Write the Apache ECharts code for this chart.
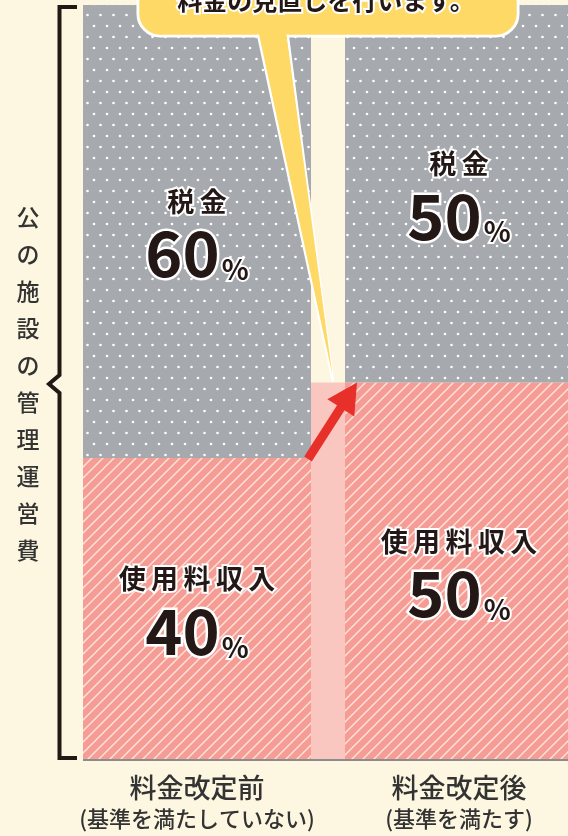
<!DOCTYPE html>
<html>
<head>
<meta charset="utf-8">
<script src="https://cdn.jsdelivr.net/npm/echarts@6/dist/echarts.min.js"></script>
<style>
  html, body { margin: 0; padding: 0; background: #fdf7e1; overflow: hidden; }
  /* 右の棒は画面の端で切れているので、図は少し広く描く */
  #main { width: 590px; height: 836px; }
</style>
</head>
<body>
<div id="main"></div>
<script>
// データ
var categories = ['料金改定前', '料金改定後'];
var notes = ['(基準を満たしていない)', '(基準を満たす)'];
var taxShare = [60, 50];     // 税金
var usageShare = [40, 50];   // 使用料収入
var taxName = '税金';
var usageName = '使用料収入';
var sideTitle = '公の施設の管理運営費';
var bubbleText = '料金の見直しを行います。';

var BAR_W = 228;
var INK = '#231815';
var FONT = '"Noto Sans CJK JP", "Noto Sans CJK SC", sans-serif';

// 模様（ドット・斜線）
function dotPattern() {
  var c = document.createElement('canvas');
  c.width = 13; c.height = 22;
  var g = c.getContext('2d');
  g.fillStyle = '#a6aaae';
  g.fillRect(0, 0, 13, 22);
  g.fillStyle = '#ffffff';
  [[3, 4], [9.5, 15]].forEach(function (p) {
    g.beginPath();
    g.arc(p[0], p[1], 1.3, 0, Math.PI * 2);
    g.fill();
  });
  return c;
}
function stripePattern() {
  var s = 11;
  var c = document.createElement('canvas');
  c.width = s; c.height = s;
  var g = c.getContext('2d');
  g.fillStyle = '#f59d95';
  g.fillRect(0, 0, s, s);
  g.strokeStyle = '#fde3de';
  g.lineWidth = 1.4;
  [[-s / 2, s / 2, s / 2, -s / 2], [0, s, s, 0], [s / 2, s * 1.5, s * 1.5, s / 2]].forEach(function (l) {
    g.beginPath();
    g.moveTo(l[0], l[1]);
    g.lineTo(l[2], l[3]);
    g.stroke();
  });
  return c;
}

function spaced(s) {
  return s.split('').join('\u2009');
}

var labelRich = {
  n: { fontFamily: FONT, fontSize: 27, fontWeight: 'bold', color: INK,
       textBorderColor: '#fff', textBorderWidth: 4, lineHeight: 44 },
  v: { fontFamily: FONT, fontSize: 63, fontWeight: 'bold', color: INK,
       textBorderColor: '#fff', textBorderWidth: 5, lineHeight: 60 },
  p: { fontFamily: FONT, fontSize: 28, fontWeight: 'bold', color: INK,
       textBorderColor: '#fff', textBorderWidth: 4, verticalAlign: 'bottom', lineHeight: 60, padding: [0, 0, 0, 2] }
};

function barLabel(name) {
  return {
    show: true,
    position: 'inside',
    formatter: function (p) {
      return '{n|' + spaced(name) + '}\n{v|' + p.value + '}{p|%}';
    },
    rich: labelRich
  };
}

var chart = echarts.init(document.getElementById('main'));

var option = {
  backgroundColor: '#fdf7e1',
  animation: false,
  grid: { left: 66, right: 0, top: 5, bottom: 76 },
  xAxis: {
    type: 'category',
    data: categories,
    axisLine: { show: false },
    axisTick: { show: false },
    axisLabel: {
      margin: 13,
      formatter: function (v, i) {
        return '{a|' + v + '}\n{b|' + notes[i] + '}';
      },
      rich: {
        a: { fontFamily: FONT, fontSize: 27, fontWeight: 500, color: '#333', lineHeight: 30 },
        b: { fontFamily: FONT, fontSize: 22, fontWeight: 500, color: '#333', lineHeight: 32 }
      }
    }
  },
  yAxis: { type: 'value', min: 0, max: 100, show: false },
  series: [
    {
      name: usageName,
      type: 'bar',
      stack: 'total',
      barWidth: BAR_W,
      data: usageShare,
      itemStyle: { color: { image: stripePattern(), repeat: 'repeat' } },
      label: barLabel(usageName)
    },
    {
      name: taxName,
      type: 'bar',
      stack: 'total',
      barWidth: BAR_W,
      data: taxShare,
      itemStyle: { color: { image: dotPattern(), repeat: 'repeat' } },
      label: barLabel(taxName)
    },
    {
      // 間の帯・基線・矢印
      type: 'custom',
      z: 20,
      data: [0],
      renderItem: function (params, api) {
        var half = BAR_W / 2;
        var p0 = api.coord([0, usageShare[0]]);
        var p1 = api.coord([1, usageShare[1]]);
        var b0 = api.coord([0, 0]);
        var b1 = api.coord([1, 0]);
        var gapL = p0[0] + half, gapR = p1[0] - half;

        var sx = gapL - 3, sy = p0[1] + 1;
        var tx = gapR + 12, ty = p1[1];
        var dx = tx - sx, dy = ty - sy;
        var len = Math.sqrt(dx * dx + dy * dy);
        var ux = dx / len, uy = dy / len, nx = -uy, ny = ux;
        var headL = 30, headW = 16, shaftW = 4.5;
        var hx = tx - ux * headL, hy = ty - uy * headL;

        return {
          type: 'group',
          children: [
            {
              type: 'rect',
              shape: { x: gapL, y: p1[1], width: gapR - gapL, height: b1[1] - p1[1] },
              style: { fill: '#f9c7c0' }
            },
            {
              type: 'line',
              shape: { x1: b0[0] - half, y1: b0[1], x2: b1[0] + half + 20, y2: b1[1] },
              style: { stroke: '#8c8c8c', lineWidth: 2 }
            },
            {
              type: 'polygon',
              shape: {
                points: [
                  [sx + nx * shaftW, sy + ny * shaftW],
                  [hx + nx * shaftW, hy + ny * shaftW],
                  [hx + nx * headW, hy + ny * headW],
                  [tx, ty],
                  [hx - nx * headW, hy - ny * headW],
                  [hx - nx * shaftW, hy - ny * shaftW],
                  [sx - nx * shaftW, sy - ny * shaftW]
                ]
              },
              style: { fill: '#e8302a' }
            }
          ]
        };
      }
    }
  ],
  graphic: [
    // 左の括弧
    {
      type: 'polyline',
      z: 10,
      shape: { points: [[77, 7], [59.5, 7], [59.5, 375], [49, 384], [59.5, 393], [59.5, 758], [77, 758]] },
      style: { stroke: INK, lineWidth: 4, fill: null, lineJoin: 'miter' }
    },
    {
      type: 'text',
      z: 10,
      style: {
        x: 28, y: 199,
        text: sideTitle.split('').join('\n'),
        font: '500 23px ' + FONT,
        lineHeight: 37,
        textAlign: 'center',
        fill: '#333'
      }
    },
    // 吹き出し
    {
      type: 'rect', z: 100,
      shape: { x: 138, y: -70, width: 380, height: 106, r: 22 },
      style: { fill: '#ffd966', stroke: '#fff', lineWidth: 3 }
    },
    {
      type: 'polygon', z: 101,
      shape: { points: [[257, 30], [287, 30], [333, 382]] },
      style: { fill: '#ffd966', stroke: '#fff', lineWidth: 2.5 }
    },
    {
      type: 'rect', z: 102,
      shape: { x: 139.5, y: -70, width: 377, height: 104.5, r: 21 },
      style: { fill: '#ffd966' }
    },
    {
      type: 'polygon', z: 103,
      shape: { points: [[258.3, 30], [285.7, 30], [332.4, 375]] },
      style: { fill: '#ffd966' }
    },
    {
      type: 'text', z: 104,
      style: {
        x: 326, y: 0,
        text: bubbleText,
        font: 'bold 25px ' + FONT,
        textAlign: 'center',
        textVerticalAlign: 'middle',
        fill: INK,
        stroke: '#fff',
        lineWidth: 4
      }
    }
  ]
};

chart.setOption(option);
</script>
</body>
</html>
